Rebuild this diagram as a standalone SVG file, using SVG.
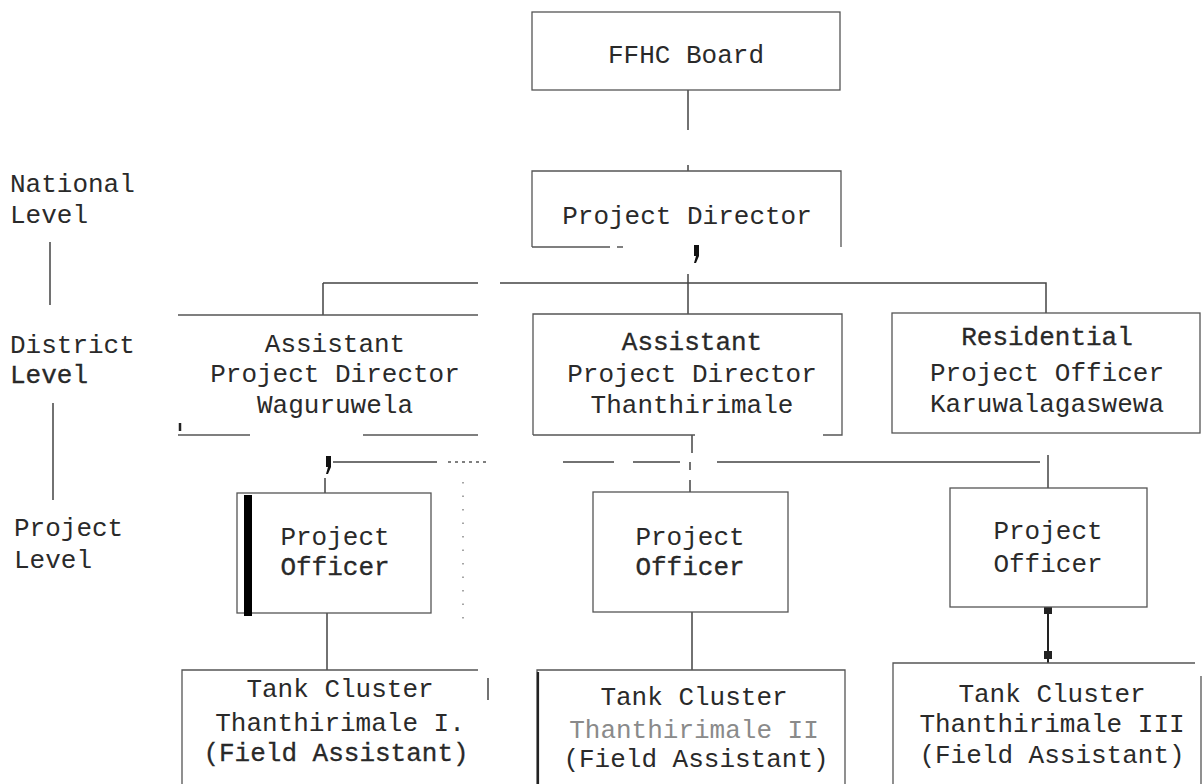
<svg xmlns="http://www.w3.org/2000/svg" width="1203" height="784" viewBox="0 0 1203 784">
<style>
text{font-family:"Liberation Mono","Courier New",monospace;font-size:26px;fill:#2a2a2a}
.c{text-anchor:middle}
.sb{stroke:#222;stroke-width:0.3}
.g{fill:#8a8a8a}
.b{fill:none;stroke:#555;stroke-width:1.3}
.l{fill:none;stroke:#444;stroke-width:1.5}
.d{fill:none;stroke:#555;stroke-width:1.3;stroke-dasharray:3 4}
.mk{fill:#111}
</style>
<defs>
<path id="blot" d="M0 0h5v11l-3 7h-2l2-7h-2z"/>
</defs>
<rect width="1203" height="784" fill="#fff"/>

<g id="levels">
<text x="10" y="192">National</text>
<text x="10" y="223">Level</text>
<text x="10" y="353">District</text>
<text x="10" y="383" class="sb">Level</text>
<text x="14" y="536">Project</text>
<text x="14" y="568">Level</text>
<path class="l" d="M50 242V305M53 403V500"/>
</g>

<g id="connectors">
<path class="l" d="M688 90V130M688 165V171"/>
<path class="l" d="M323 283H478M500 283H1046V313M323 283V315M688 274V314"/>
<path class="l" d="M692 435V453"/>
<path class="l" d="M333 462H437M563 462H614M633 462H680M717 462H1040M1048 455V488"/>
<path class="d" d="M448 462H486"/>
<path class="l" d="M325 478V493M690 462V470M690 480V492"/>
<path class="l" d="M327 613V670M692 612V670"/>
<path stroke="#222" stroke-width="2" fill="none" d="M1048 607V663"/>
<rect x="1044" y="607" width="8" height="7" fill="#222"/>
<rect x="1044" y="651" width="8" height="8" fill="#222"/>
<use href="#blot" class="mk" x="694" y="245"/>
<use href="#blot" class="mk" x="326" y="456"/>
</g>

<g id="ffhc-board">
<rect class="b" x="532" y="12" width="308" height="78"/>
<text class="c" x="686" y="63">FFHC Board</text>
</g>

<g id="project-director">
<path class="b" d="M532 247V171H841V247M532 247H610M617 247H623"/>
<text class="c" x="687" y="224">Project Director</text>
</g>

<g id="apd-waguruwela">
<path class="b" d="M178 315H478M178 435H250M363 435H478"/>
<path stroke="#222" stroke-width="2.5" d="M180 423V431"/>
<text class="c" x="335" y="352">Assistant</text>
<text class="c" x="335" y="382">Project Director</text>
<text class="c" x="335" y="413">Waguruwela</text>
</g>

<g id="apd-thanthirimale">
<path class="b" d="M533 435V314H842V435H823M533 435H695"/>
<text class="c sb" x="692" y="350">Assistant</text>
<text class="c" x="692" y="382">Project Director</text>
<text class="c" x="692" y="413">Thanthirimale</text>
</g>

<g id="rpo-karuwalagaswewa">
<rect class="b" x="892" y="313" width="308" height="120"/>
<text class="c sb" x="1047" y="345">Residential</text>
<text class="c" x="1047" y="381">Project Officer</text>
<text class="c" x="1047" y="412">Karuwalagaswewa</text>
</g>

<g id="po-1">
<rect class="b" x="237" y="493" width="194" height="120"/>
<rect x="244" y="495" width="8" height="121" fill="#000"/>
<text class="c" x="335" y="545">Project</text>
<text class="c sb" x="335" y="575">Officer</text>
</g>

<g id="po-2">
<rect class="b" x="593" y="492" width="195" height="120"/>
<text class="c" x="690" y="545">Project</text>
<text class="c sb" x="690" y="575">Officer</text>
</g>

<g id="po-3">
<rect class="b" x="950" y="488" width="197" height="119"/>
<text class="c" x="1048" y="539">Project</text>
<text class="c" x="1048" y="572">Officer</text>
</g>

<g id="tc-1">
<path class="b" d="M182 784V670H478"/>
<path class="l" d="M488 678V700"/>
<path stroke="#888" stroke-width="1.5" stroke-dasharray="1.5 12" d="M463 482V622"/>
<text class="c" x="340" y="697">Tank Cluster</text>
<text class="c" x="340" y="731">Thanthirimale I.</text>
<text class="c sb" x="336" y="761">(Field Assistant)</text>
</g>

<g id="tc-2">
<path class="b" d="M537 784V670H845V784"/>
<path stroke="#222" stroke-width="2.2" d="M538 672V784"/>
<text class="c" x="694" y="705">Tank Cluster</text>
<text class="c g" x="694" y="738">Thanthirimale II</text>
<text class="c" x="696" y="767">(Field Assistant)</text>
</g>

<g id="tc-3">
<path class="b" d="M893 784V663H1195M1201 676V784"/>
<text class="c" x="1052" y="702">Tank Cluster</text>
<text class="c" x="1052" y="732">Thanthirimale III</text>
<text class="c" x="1052" y="763">(Field Assistant)</text>
</g>
</svg>
